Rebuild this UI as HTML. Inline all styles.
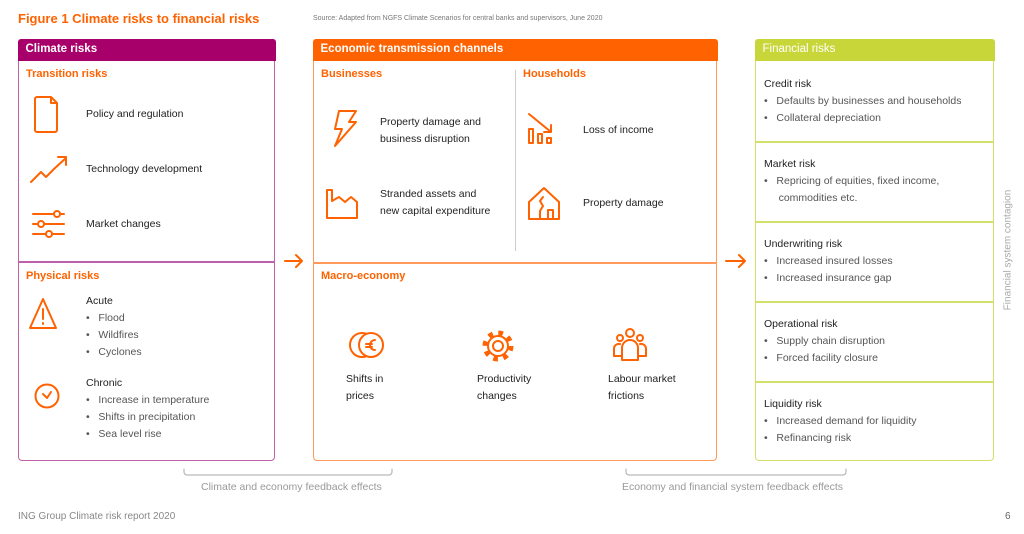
<!DOCTYPE html>
<html><head><meta charset="utf-8"><style>
*{margin:0;padding:0;box-sizing:border-box}
body{width:1024px;height:534px;background:#fff;position:relative;font-family:"Liberation Sans",sans-serif;overflow:hidden;color:#333}
.a{position:absolute;white-space:nowrap}
.box{position:absolute;border-radius:4px}
.hd{position:absolute;left:0;right:0;top:0;height:22px;color:#fff;font-size:11.5px;font-weight:bold;padding:4px 8px;border-radius:3px 3px 0 0}
.or{color:#ff6200;font-weight:bold;font-size:11px}
.t{font-size:10.5px;color:#222;line-height:17px}
.b{font-size:10.5px;color:#555;line-height:17px}
.g{font-size:10.5px;color:#999}
</style></head><body>
<div class="a" style="left:18px;top:11px;font-size:13px;font-weight:bold;color:#ff6200">Figure 1 Climate risks to financial risks</div>
<div class="a" style="left:313px;top:15px;font-size:7px;color:#777">Source: Adapted from NGFS Climate Scenarios for central banks and supervisors, June 2020</div>

<div class="box" style="left:18px;top:39px;width:257px;height:422px;border:1.5px solid #c060a8">
<div class="hd" style="background:#a8006a;top:-1.5px;left:-1.5px;right:-1.5px">Climate risks</div></div>
<div class="a" style="left:18px;top:261px;width:257px;height:1.5px;background:#c060a8"></div>
<div class="a or" style="left:26px;top:68px">Transition risks</div>
<div class="a t" style="left:86px;top:106px">Policy and regulation</div>
<div class="a t" style="left:86px;top:161px">Technology development</div>
<div class="a t" style="left:86px;top:216px">Market changes</div>
<div class="a or" style="left:26px;top:270px">Physical risks</div>
<div class="a t" style="left:86px;top:293px">Acute</div>
<div class="a b" style="left:86px;top:310px">•&nbsp;&nbsp; Flood<br>•&nbsp;&nbsp; Wildfires<br>•&nbsp;&nbsp; Cyclones</div>
<div class="a t" style="left:86px;top:375px">Chronic</div>
<div class="a b" style="left:86px;top:392px">•&nbsp;&nbsp; Increase in temperature<br>•&nbsp;&nbsp; Shifts in precipitation<br>•&nbsp;&nbsp; Sea level rise</div>

<div class="box" style="left:313px;top:39px;width:404px;height:422px;border:1.5px solid #ff9a5a">
<div class="hd" style="background:#ff6200;top:-1.5px;left:-1.5px;right:-1.5px">Economic transmission channels</div></div>
<div class="a" style="left:313px;top:262px;width:404px;height:1.5px;background:#ff9a5a"></div>
<div class="a" style="left:515px;top:70px;width:1px;height:181px;background:#ccc"></div>
<div class="a or" style="left:321px;top:68px">Businesses</div>
<div class="a or" style="left:523px;top:68px">Households</div>
<div class="a t" style="left:380px;top:114px">Property damage and<br>business disruption</div>
<div class="a t" style="left:380px;top:186px">Stranded assets and<br>new capital expenditure</div>
<div class="a t" style="left:583px;top:122px">Loss of income</div>
<div class="a t" style="left:583px;top:195px">Property damage</div>
<div class="a or" style="left:321px;top:270px">Macro-economy</div>
<div class="a t" style="left:346px;top:371px">Shifts in<br>prices</div>
<div class="a t" style="left:477px;top:371px">Productivity<br>changes</div>
<div class="a t" style="left:608px;top:371px">Labour market<br>frictions</div>

<div class="box" style="left:755px;top:39px;width:239px;height:422px;border:1.5px solid #d4e06a">
<div class="hd" style="background:#c8d63a;top:-1.5px;left:-1.5px;right:-1.5px;font-weight:normal">Financial risks</div></div>
<div class="a" style="left:755px;top:141px;width:239px;height:1.5px;background:#d4e06a"></div>
<div class="a" style="left:755px;top:221px;width:239px;height:1.5px;background:#d4e06a"></div>
<div class="a" style="left:755px;top:301px;width:239px;height:1.5px;background:#d4e06a"></div>
<div class="a" style="left:755px;top:381px;width:239px;height:1.5px;background:#d4e06a"></div>
<div class="a t" style="left:764px;top:76px">Credit risk</div>
<div class="a b" style="left:764px;top:93px">•&nbsp;&nbsp; Defaults by businesses and households<br>•&nbsp;&nbsp; Collateral depreciation</div>
<div class="a t" style="left:764px;top:156px">Market risk</div>
<div class="a b" style="left:764px;top:173px">•&nbsp;&nbsp; Repricing of equities, fixed income,<br>&nbsp;&nbsp;&nbsp;&nbsp; commodities etc.</div>
<div class="a t" style="left:764px;top:236px">Underwriting risk</div>
<div class="a b" style="left:764px;top:253px">•&nbsp;&nbsp; Increased insured losses<br>•&nbsp;&nbsp; Increased insurance gap</div>
<div class="a t" style="left:764px;top:316px">Operational risk</div>
<div class="a b" style="left:764px;top:333px">•&nbsp;&nbsp; Supply chain disruption<br>•&nbsp;&nbsp; Forced facility closure</div>
<div class="a t" style="left:764px;top:396px">Liquidity risk</div>
<div class="a b" style="left:764px;top:413px">•&nbsp;&nbsp; Increased demand for liquidity<br>•&nbsp;&nbsp; Refinancing risk</div>
<div class="a g" style="left:1008px;top:250px;transform:translate(-50%,-50%) rotate(-90deg);font-size:10px;color:#aaa">Financial system contagion</div>

<div class="a g" style="left:201px;top:481px">Climate and economy feedback effects</div>
<div class="a g" style="left:622px;top:481px">Economy and financial system feedback effects</div>
<div class="a" style="left:18px;top:511px;font-size:10px;color:#888">ING Group Climate risk report 2020</div>
<div class="a" style="left:1005px;top:511px;font-size:10px;color:#666">6</div>

<svg class="a" style="left:0;top:0" width="1024" height="534" fill="none" stroke="#ff6200" stroke-width="2" stroke-linecap="round" stroke-linejoin="round">
<path d="M285 261H302M296 255l6 6-6 6"/>
<path d="M726 261H745M739 255l6 6-6 6"/>
<path d="M184 469v3a3 3 0 0 0 3 3h202a3 3 0 0 0 3-3v-3M626 469v3a3 3 0 0 0 3 3h214a3 3 0 0 0 3-3v-3" stroke="#aaa" stroke-width="1"/>
<path d="M37 97h14l6 6v27a2 2 0 0 1-2 2H37a2 2 0 0 1-2-2V99a2 2 0 0 1 2-2zM51 97v6h6"/>
<path d="M31 182l10-10 5 5 9-9 11-10M58 157h8v8"/>
<path d="M33 214h21M60 214h4M33 224h5M44 224h20M33 234h13M52 234h12"/>
<circle cx="57" cy="214" r="3"/><circle cx="41" cy="224" r="3"/><circle cx="49" cy="234" r="3"/>
<path d="M30 328l13-29 13 29z"/><path d="M43 309v10M43 323v1"/>
<circle cx="47" cy="396" r="11.5"/><path d="M43 394l4 4 4-6"/>
<path d="M339 111h17l-7 11h7l-21 24 7-17h-7z"/>
<path d="M327 218v-28h5v11l7-4 6 5 6-5 6 5v16z"/>
<path d="M529 114l22 18M544 132h7v-7"/><rect x="529" y="129" width="4" height="14"/><rect x="538" y="134" width="4" height="9"/><rect x="547" y="138" width="4" height="5"/>
<path d="M529 202l15-14 15 14v17h-30zM540 219v-8l3-5-3-5 3-4M548 219v-9h5v9"/>
<circle cx="362" cy="345" r="12"/><circle cx="371" cy="345" r="12" fill="#fff"/><path d="M375 340a5 5 0 1 0 0 10M366 344h6M366 347h6"/>
<circle cx="498" cy="346" r="10"/><circle cx="498" cy="346" r="13" stroke-width="5" stroke-dasharray="4.6 5.6" stroke-linecap="butt"/><circle cx="498" cy="346" r="5"/>
<circle cx="630" cy="333" r="4"/><circle cx="620" cy="338" r="3"/><circle cx="640" cy="338" r="3"/>
<path d="M622 360v-12a8 8 0 0 1 16 0v12zM622 356h-8v-8a5 5 0 0 1 6-4M638 356h8v-8a5 5 0 0 0-6-4"/>
</svg>
</body></html>
